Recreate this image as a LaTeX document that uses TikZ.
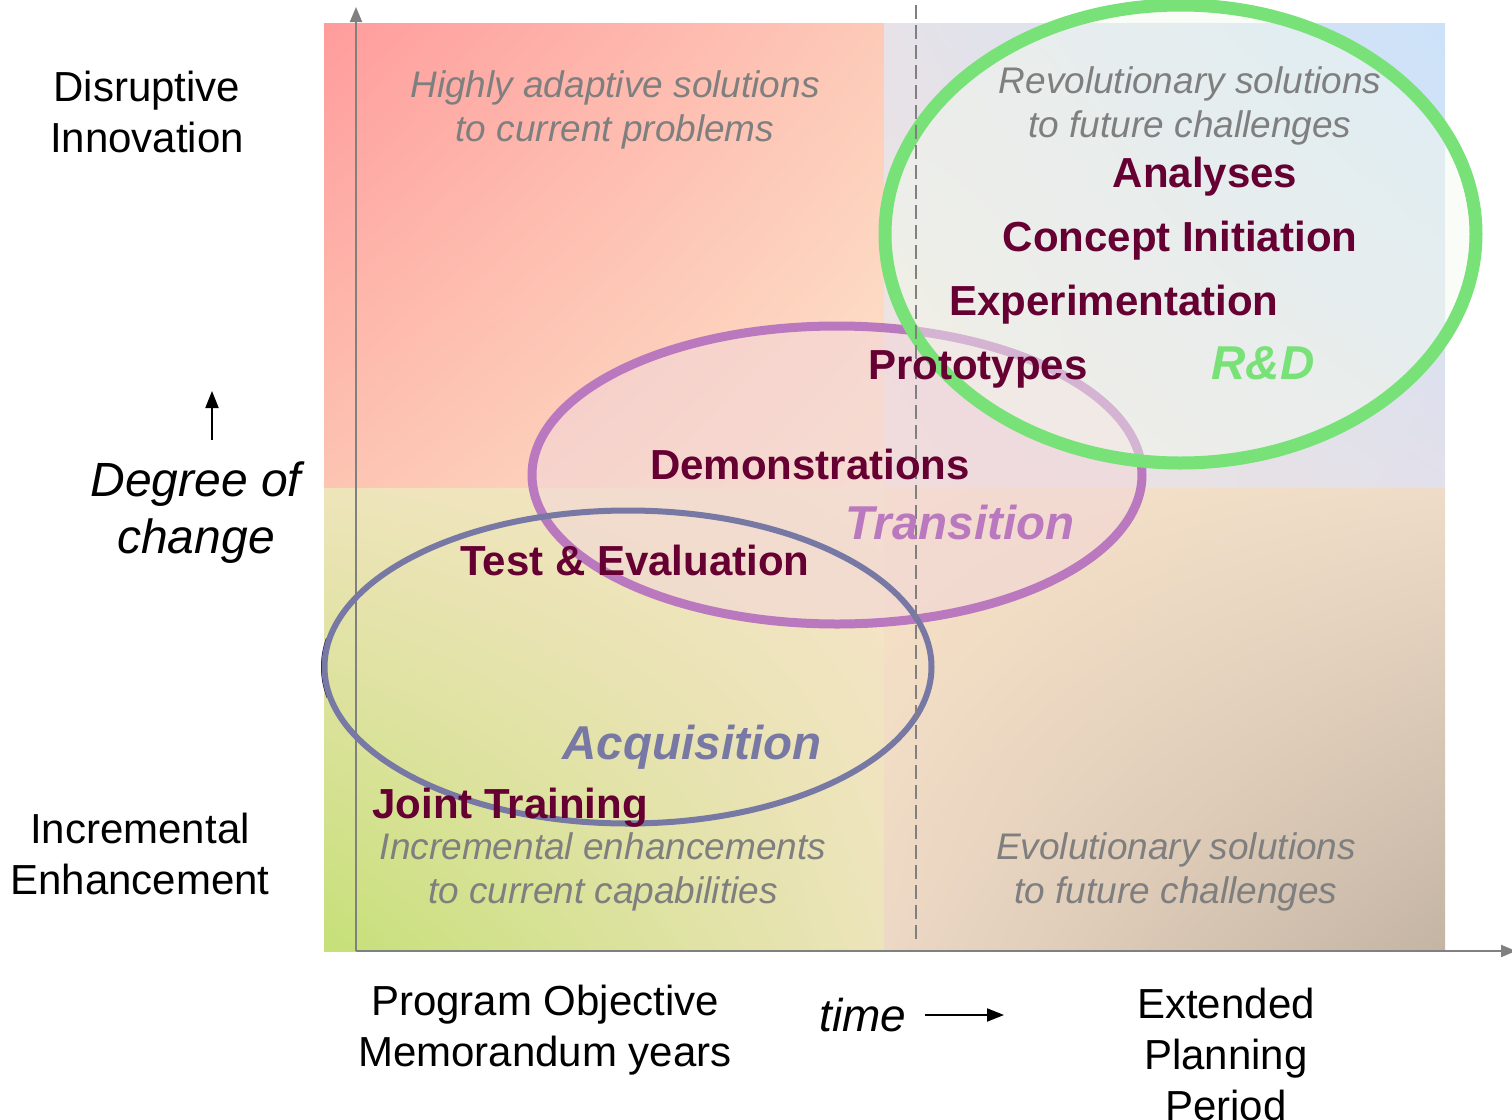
\documentclass[tikz,border=0pt]{standalone}
\usepackage{fontspec}
\setmainfont{Liberation Sans}
\usetikzlibrary{arrows.meta,shadings}
\definecolor{tlA}{RGB}{255,156,156}
\definecolor{tlB}{RGB}{253,202,184}
\definecolor{tlC}{RGB}{253,196,178}
\definecolor{tlD}{RGB}{253,228,202}
\definecolor{trA}{RGB}{230,226,232}
\definecolor{trB}{RGB}{204,226,250}
\definecolor{trC}{RGB}{240,228,222}
\definecolor{trD}{RGB}{226,224,234}
\definecolor{blA}{RGB}{238,228,186}
\definecolor{blB}{RGB}{246,228,200}
\definecolor{blC}{RGB}{198,224,120}
\definecolor{blD}{RGB}{236,228,186}
\definecolor{brA}{RGB}{248,226,198}
\definecolor{brB}{RGB}{238,220,200}
\definecolor{brC}{RGB}{236,216,196}
\definecolor{brD}{RGB}{196,180,164}
\definecolor{axisgray}{RGB}{128,128,128}
\definecolor{quadgray}{RGB}{127,127,127}
\definecolor{actred}{RGB}{102,0,51}
\definecolor{rdgreen}{RGB}{120,225,120}
\definecolor{trpurple}{RGB}{186,120,190}
\definecolor{acqblue}{RGB}{120,120,164}
\definecolor{navyarc}{RGB}{10,10,70}
\definecolor{purplefill}{RGB}{242,214,218}
\definecolor{greenfill}{RGB}{244,252,238}
\tikzset{
  lab/.style={font=\fontsize{21pt}{25.5pt}\selectfont, align=center, text=black, inner sep=0pt},
  degree/.style={font=\fontsize{24pt}{28.5pt}\selectfont\itshape, align=center, text=black, inner sep=0pt},
  quad/.style={font=\fontsize{18.5pt}{22pt}\selectfont\itshape, align=center, text=quadgray, inner sep=0pt},
  act/.style={font=\fontsize{21pt}{25pt}\selectfont\bfseries, text=actred, inner sep=0pt},
  phase/.style={font=\fontsize{23.75pt}{28pt}\selectfont\bfseries\itshape, inner sep=0pt},
  axisline/.style={draw=axisgray, line width=1pt, -{Triangle[length=7.5pt,width=6pt]}},
  blackarrow/.style={draw=black, line width=1pt, -{Triangle[length=8.5pt,width=6.5pt]}}
}
\begin{document}
\begin{tikzpicture}[x=0.5pt,y=-0.5pt]
\fill[white] (0,0) rectangle (1512,1120);
\useasboundingbox (0,0) rectangle (1512,1120);
% quadrants
\shade[upper left=tlA, upper right=tlB, lower left=tlC, lower right=tlD] (324,23) rectangle (884,488);
\shade[upper left=trA, upper right=trB, lower left=trC, lower right=trD] (884,23) rectangle (1445,488);
\shade[upper left=blA, upper right=blB, lower left=blC, lower right=blD] (324,488) rectangle (884,951);
\shade[upper left=brA, upper right=brB, lower left=brC, lower right=brD] (884,488) rectangle (1445,951);
% axes
\coordinate (origin) at (356,951);
\coordinate (ytop) at (356,7);
\coordinate (xend) at (1516,951);
\draw[axisline] (origin) -- (ytop);
\draw[axisline] (origin) -- (xend);
% transition ellipse
\filldraw[fill=purplefill, fill opacity=0.55, draw=trpurple, line width=4.5pt] (837,475) ellipse [x radius=152.5pt, y radius=74.5pt];
% acquisition ellipse
\begin{scope}
\clip (300,638) rectangle (330,697);
\draw[navyarc, line width=2pt] (626.5,667) ellipse [x radius=151.75pt, y radius=78.25pt];
\end{scope}
\draw[acqblue, line width=3pt] (628,667) ellipse [x radius=151.75pt, y radius=78.25pt];
% R&D ellipse
\filldraw[fill=greenfill, fill opacity=0.45, draw=rdgreen, line width=6.5pt] (1180.5,234) ellipse [x radius=147.75pt, y radius=114.5pt];
% dashed divider
\coordinate (dtop) at (916,5);
\coordinate (dbot) at (916,945);
\draw[axisgray, line width=0.75pt, dash pattern=on 7pt off 3pt] (dtop) -- (dbot);
% left labels
\node[lab] (dis) at (147,112) {Disruptive\\Innovation};
\node[lab] (inc) at (140,854) {Incremental\\Enhancement};
\node[degree] (deg) at (196,513) {Degree of\\change};
\coordinate (upA) at (212,440);
\coordinate (upB) at (212,391);
\draw[blackarrow] (upA) -- (upB);
% quadrant texts
\node[quad] (hi) at (615,110) {Highly adaptive solutions\\to current problems};
\node[quad] (rev) at (1190,106) {Revolutionary solutions\\to future challenges};
\node[quad] (incr) at (603,872) {Incremental enhancements\\to current capabilities};
\node[quad] (evo) at (1176,872) {Evolutionary solutions\\to future challenges};
% activities
\node[act] (ana) at (1205,177) {Analyses};
\node[act] (con) at (1180,241) {Concept Initiation};
\node[act] (exp) at (1114,305) {Experimentation};
\node[act] (pro) at (978,369) {Prototypes};
\node[act] (dem) at (810,464) {Demonstrations};
\node[act] (tev) at (635,560) {Test \& Evaluation};
\node[act] (jt) at (510,808) {Joint Training};
% phases
\node[phase, text=trpurple] (tra) at (960,523) {Transition};
\node[phase, text=acqblue] (acq) at (692,747) {Acquisition};
\node[phase, text=rdgreen] (rd) at (1263,363) {R\&D};
% bottom labels
\node[lab] (pom) at (545,1030) {Program Objective\\Memorandum years};
\node[font=\fontsize{23pt}{27pt}\selectfont\itshape, inner sep=0pt] (time) at (863,1015) {time};
\coordinate (tA) at (925,1015);
\coordinate (tB) at (1004,1015);
\draw[blackarrow] (tA) -- (tB);
\node[lab] (epp) at (1226,1054) {Extended\\Planning\\Period};
\end{tikzpicture}
\end{document}
